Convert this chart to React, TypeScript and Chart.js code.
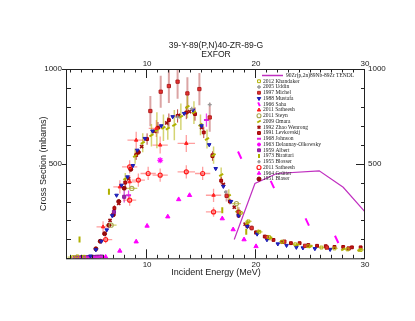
import React, { useEffect, useRef } from 'react';
import { Chart, registerables } from 'chart.js';
import { drawPoint } from 'chart.js/helpers';

Chart.register(...registerables);

// ---------- axes ----------
const xMin = 2.65;
const xMax = 30;
const yMin = 0;
const yMax = 1000;
const xLabelTicks = [10, 20, 30];
const yLabelTicks = [500, 1000];
const titleLines = ['39-Y-89(P,N)40-ZR-89-G', 'EXFOR'];
const xTitle = 'Incident Energy (MeV)';
const yTitle = 'Cross Section (mbarns)';

// ---------- data ----------
const tendlE = [18.0, 19.9, 21.9, 25.8, 28.0, 30.0];
const tendlV = [99, 395, 448, 462, 375, 245];

const khandakerE = [3.2, 3.6, 4.2, 18.6, 19.3, 20.3, 21.2, 22.4, 23.6, 24.8, 26.0, 27.2, 28.4, 29.6];
const khandakerV = [6, 10, 8, 240, 195, 140, 112, 88, 74, 64, 57, 52, 47, 44];
const khandakerDE = [0.5, 0.4, 0, 0.3, 0.3, 0.3, 0.3, 0.3, 0.3, 0.3, 0.3, 0.3, 0.3, 0.3];

const uddinE = [12.8, 14.1, 15.75];
const uddinV = [745, 790, 812];

const michelE = [10.3, 11.25, 12.0, 12.8, 13.7, 14.8, 15.75, 17.3, 18.4, 19.6, 21.0, 22.6, 24.5, 26.5, 28.5];
const michelV = [778, 880, 910, 933, 871, 894, 744, 330, 245, 160, 112, 88, 66, 57, 52];
const michelDV = [80, 85, 90, 90, 85, 85, 75, 30, 25, 15, 10, 8, 6, 5, 5];

const mustafaE = [4.8, 5.3, 5.8, 6.3, 6.8, 7.2, 7.65, 8.2, 8.7, 9.1, 9.8, 10.5, 11.3, 12.35, 13.4, 14.2, 15.0, 15.7, 16.3, 17.0, 17.7, 18.4, 19.2, 20.1, 21.0, 22.0, 22.8, 23.7, 24.3, 25.4, 26.8];
const mustafaV = [12, 45, 90, 150, 225, 333, 386, 430, 490, 571, 633, 672, 700, 748, 765, 783, 700, 600, 474, 380, 300, 225, 168, 128, 98, 76, 68, 58, 55, 51, 47];

const sahaE = [18.5, 21.5, 24.7, 27.4];
const sahaV = [545, 390, 192, 100];

const satTriE = [5.96, 7.5, 8.4, 9.0, 10.85, 11.2, 13.6, 16.1];
const satTriV = [166, 377, 404, 624, 686, 598, 607, 333];
const satTriDV = [30, 35, 35, 45, 45, 45, 45, 35];
const satTriDE = [0.6, 0.6, 0.6, 0.8, 0.7, 0.7, 0.8, 0.7];

const steynE = [6.7, 8.6, 18.2];
const steynV = [175, 369, 289];
const steynDE = [0.5, 0.5, 0.4];

const omaraE = [8.0, 8.9, 9.6, 10.4, 10.9, 11.5, 11.9, 12.5, 13.1, 13.7, 14.3, 14.9, 15.5, 16.1, 16.8, 17.5, 18.3, 19.2, 20.2, 21.3, 22.5, 23.8, 25.0, 26.5, 28.0, 29.5];
const omaraV = [420, 540, 610, 650, 677, 690, 686, 704, 748, 800, 770, 705, 630, 545, 440, 330, 250, 185, 140, 105, 85, 70, 62, 54, 48, 44];
const omaraDV = [30, 40, 50, 60, 95, 70, 60, 80, 70, 60, 60, 55, 50, 45, 40, 35, 25, 18, 14, 11, 9, 7, 6, 6, 5, 5];

const zhaoE = [6.6, 7.4, 8.3, 9.5, 10.7, 11.8, 12.9, 13.9, 15.0, 16.0, 17.0, 18.0, 19.0, 20.0];
const zhaoV = [200, 290, 420, 590, 670, 715, 755, 775, 690, 545, 390, 270, 180, 135];

const levkovskijE = [7.0, 8.0, 9.0, 10.0, 11.0, 12.0, 12.8, 13.6, 14.4, 15.2, 16.0, 16.8, 17.6, 18.4, 19.2, 20.0, 20.8, 21.6, 22.4, 23.2, 24.0, 24.8, 25.6, 26.4, 27.2, 28.0, 28.8, 29.6];
const levkovskijV = [265, 400, 545, 630, 690, 730, 752, 770, 762, 665, 540, 410, 300, 225, 170, 137, 115, 97, 86, 80, 80, 70, 66, 64, 60, 60, 58, 58];
const levkovskijDV = [15, 20, 25, 30, 30, 35, 35, 35, 35, 30, 25, 20, 15, 12, 10, 8, 7, 6, 6, 5, 5, 5, 5, 5, 5, 5, 5, 5];

const johnsonE = [3.4, 3.8, 4.2, 4.6, 5.0, 5.4, 5.8, 8.3, 15.45];
const johnsonV = [3, 3, 4, 4, 5, 6, 8, 333, 730];
const johnsonDV = [0, 0, 0, 0, 0, 0, 0, 25, 35];

const delaunayE = [11.2];
const delaunayV = [518];

const albertE = [3.4, 3.6, 3.8, 4.0, 4.2, 4.4, 4.6, 4.8, 5.0, 5.2, 5.4, 5.6, 5.8, 6.96, 7.9];
const albertV = [4, 4, 4, 5, 5, 5, 6, 6, 7, 7, 8, 8, 9, 245, 325];
const albertDV = [0, 0, 0, 0, 0, 0, 0, 0, 0, 0, 0, 0, 0, 25, 30];

const birattariE = [3.8, 6.5, 16.9, 19.1];
const birattariV = [99, 351, 254, 140];

const blosserE = [17.2, 19.5];
const blosserV = [350, 160];

const satCircE = [6.2, 8.4, 8.4, 9.2, 10.1, 11.2, 13.6, 15.1, 16.1];
const satCircV = [99, 483, 307, 413, 448, 439, 457, 448, 245];
const satCircDV = [20, 35, 30, 35, 35, 35, 35, 35, 25];
const satCircDE = [0.6, 0.7, 0.6, 0.6, 0.7, 0.7, 0.8, 0.7, 0.7];

const grutterE = [6.2, 7.5, 9.0, 10.0, 11.9, 12.9, 13.9, 16.9, 17.9, 18.9, 20.0];
const grutterV = [7, 39, 88, 171, 220, 311, 333, 210, 152, 99, 63];

const blaserE = [5.3, 5.7, 6.1, 6.5, 6.9, 7.4, 7.9, 8.5, 9.2];
const blaserV = [50, 90, 130, 175, 230, 300, 370, 470, 560];

const seriesLabels = [
  '90Zr(p,2n)89Nb-89Zr TENDL',
  '2012 Khandaker',
  '2005 Uddin',
  '1997 Michel',
  '1988 Mustafa',
  '1966 Saha',
  '2011 Satheesh',
  '2011 Steyn',
  '2009 Omara',
  '1992 Zhao Wenrong',
  '1991 Levkovskij',
  '1968 Johnson',
  '1963 Delaunay-Olkowsky',
  '1959 Albert',
  '1973 Birattari',
  '1955 Blosser',
  '2011 Satheesh',
  '1964 Grütter',
  '1951 Blaser',
];

const pts = (xs: number[], ys: number[]) => xs.map((x, i) => ({ x, y: ys[i] }));

const OLIVE = '#b0b000';
const MAGENTA = '#ff00ff';

const errorBarPlugin = {
  id: 'errorBars',
  beforeDatasetsDraw(chart: any) {
    const { ctx, chartArea } = chart;
    const xs = chart.scales.x;
    const ys = chart.scales.y;
    ctx.save();
    ctx.beginPath();
    ctx.rect(chartArea.left, chartArea.top, chartArea.right - chartArea.left, chartArea.bottom - chartArea.top);
    ctx.clip();
    chart.data.datasets.forEach((ds: any) => {
      const ey = ds.errY as number[] | undefined;
      const ex = ds.errX as number[] | undefined;
      if (!ey && !ex) return;
      ctx.strokeStyle = ds.errColor || ds.borderColor;
      ctx.lineWidth = ds.errWidth || 1;
      ds.data.forEach((p: any, j: number) => {
        const px = xs.getPixelForValue(p.x);
        const py = ys.getPixelForValue(p.y);
        if (ey && ey[j]) {
          ctx.beginPath();
          ctx.moveTo(px, ys.getPixelForValue(p.y - ey[j]));
          ctx.lineTo(px, ys.getPixelForValue(p.y + ey[j]));
          ctx.stroke();
        }
        if (ex && ex[j]) {
          ctx.beginPath();
          ctx.moveTo(xs.getPixelForValue(p.x - ex[j]), py);
          ctx.lineTo(xs.getPixelForValue(p.x + ex[j]), py);
          ctx.stroke();
        }
      });
    });
    ctx.restore();
  },
};

const framePlugin = {
  id: 'frameTicks',
  afterDatasetsDraw(chart: any) {
    const { ctx, chartArea } = chart;
    const { left, right, top, bottom } = chartArea;
    const xs = chart.scales.x;
    const ys = chart.scales.y;
    ctx.save();
    ctx.strokeStyle = '#222';
    ctx.lineWidth = 1;
    ctx.strokeRect(left - 0.5, top + 0.5, right - left, bottom - top);
    ctx.beginPath();
    xs.ticks.forEach((t: any) => {
      const px = Math.round(xs.getPixelForValue(t.value)) - 0.5;
      const len = xLabelTicks.includes(t.value) ? 9 : 3.5;
      ctx.moveTo(px, bottom);
      ctx.lineTo(px, bottom - len);
      ctx.moveTo(px, top);
      ctx.lineTo(px, top + len);
    });
    ys.ticks.forEach((t: any) => {
      const py = Math.round(ys.getPixelForValue(t.value)) + 0.5;
      const major = yLabelTicks.includes(t.value);
      if (major) {
        ctx.moveTo(left - 5, py);
        ctx.lineTo(left, py);
        ctx.moveTo(right, py);
        ctx.lineTo(right - 9, py);
      } else {
        ctx.moveTo(left, py);
        ctx.lineTo(left + 4, py);
        ctx.moveTo(right, py);
        ctx.lineTo(right - 4, py);
      }
    });
    ctx.stroke();
    ctx.restore();
  },
};

const legendPlugin = {
  id: 'insideLegend',
  afterDatasetsDraw(chart: any) {
    const { ctx } = chart;
    const x0 = 259;
    const y0 = 75.5;
    const dy = 5.75;
    ctx.save();
    ctx.font = "5.5px 'Liberation Serif', 'DejaVu Serif', serif";
    ctx.textBaseline = 'middle';
    chart.data.datasets.forEach((ds: any, i: number) => {
      const y = y0 + i * dy;
      if (ds.isLine) {
        ctx.strokeStyle = ds.borderColor;
        ctx.lineWidth = 1.5;
        ctx.beginPath();
        ctx.moveTo(262, y);
        ctx.lineTo(283, y);
        ctx.stroke();
        ctx.fillStyle = '#222';
        ctx.fillText(ds.label, 286, y);
      } else {
        ctx.fillStyle = ds.backgroundColor;
        ctx.strokeStyle = ds.borderColor;
        ctx.lineWidth = ds.borderWidth || 1;
        drawPoint(ctx, {
          pointStyle: ds.pointStyle,
          rotation: ds.pointRotation || 0,
          radius: Math.min(ds.pointRadius, 2),
          borderWidth: ds.borderWidth || 1,
        } as any, x0, y);
        ctx.fillStyle = '#222';
        ctx.fillText(ds.label, 263, y);
      }
    });
    ctx.restore();
  },
};

function scatter(label: string, xs: number[], ys: number[], style: any, extra: any = {}) {
  return {
    label,
    data: pts(xs, ys),
    showLine: false,
    ...style,
    ...extra,
  };
}

export default function App() {
  const ref = useRef<HTMLCanvasElement>(null);

  useEffect(() => {
    if (!ref.current) return;
    const L = seriesLabels;
    const datasets: any[] = [
      {
        label: L[0], data: pts(tendlE, tendlV), showLine: true, isLine: true,
        borderColor: '#c030c0', backgroundColor: '#c030c0', borderWidth: 1.2, pointRadius: 0,
      },
      scatter(L[1], khandakerE, khandakerV, { pointStyle: 'rect', pointRadius: 2, borderColor: OLIVE, backgroundColor: 'rgba(0,0,0,0)', borderWidth: 1 },
        { errX: khandakerDE, errColor: 'rgba(176,176,0,0.6)', errWidth: 1.2 }),
      scatter(L[2], uddinE, uddinV, { pointStyle: 'cross', pointRadius: 2, borderColor: '#999', backgroundColor: '#999', borderWidth: 1.3 }),
      scatter(L[3], michelE, michelV, { pointStyle: 'rect', pointRadius: 2.3, borderColor: '#b02020', backgroundColor: '#e83030', borderWidth: 1 },
        { errY: michelDV, errColor: 'rgba(190,90,90,0.55)', errWidth: 2 }),
      scatter(L[4], mustafaE, mustafaV, { pointStyle: 'triangle', pointRotation: 180, pointRadius: 2.1, borderColor: '#1a1ab0', backgroundColor: '#2525c8', borderWidth: 1 }),
      scatter(L[5], sahaE, sahaV, { pointStyle: 'line', pointRotation: 65, pointRadius: 4, borderColor: MAGENTA, backgroundColor: MAGENTA, borderWidth: 2 }),
      scatter(L[6], satTriE, satTriV, { pointStyle: 'triangle', pointRadius: 2, borderColor: '#ff2020', backgroundColor: '#ff2020', borderWidth: 1 },
        { errY: satTriDV, errX: satTriDE, errColor: 'rgba(255,80,80,0.55)', errWidth: 1.3 }),
      scatter(L[7], steynE, steynV, { pointStyle: 'circle', pointRadius: 2.1, borderColor: '#a8a850', backgroundColor: 'rgba(0,0,0,0)', borderWidth: 1.1 },
        { errX: steynDE, errColor: 'rgba(176,176,0,0.6)', errWidth: 1.2 }),
      scatter(L[8], omaraE, omaraV, { pointStyle: 'line', pointRotation: -30, pointRadius: 2.3, borderColor: OLIVE, backgroundColor: OLIVE, borderWidth: 2 },
        { errY: omaraDV, errColor: 'rgba(176,176,0,0.55)', errWidth: 1.5 }),
      scatter(L[9], zhaoE, zhaoV, { pointStyle: 'crossRot', pointRadius: 2.2, borderColor: '#a01010', backgroundColor: '#a01010', borderWidth: 1.6 }),
      scatter(L[10], levkovskijE, levkovskijV, { pointStyle: 'rect', pointRadius: 2, borderColor: '#a00000', backgroundColor: '#c01818', borderWidth: 1 },
        { errY: levkovskijDV, errColor: 'rgba(170,20,20,0.8)', errWidth: 1 }),
      scatter(L[11], johnsonE, johnsonV, { pointStyle: 'line', pointRadius: 2.5, borderColor: '#e020e0', backgroundColor: '#e020e0', borderWidth: 2 },
        { errY: johnsonDV, errColor: 'rgba(230,30,230,0.8)', errWidth: 1.3 }),
      scatter(L[12], delaunayE, delaunayV, { pointStyle: 'star', pointRadius: 3, borderColor: MAGENTA, backgroundColor: 'rgba(0,0,0,0)', borderWidth: 1.2 }),
      scatter(L[13], albertE, albertV, { pointStyle: 'rect', pointRadius: 2.2, borderColor: '#8a1a9a', backgroundColor: '#9a28aa', borderWidth: 1 },
        { errY: albertDV, errColor: 'rgba(200,40,200,0.8)', errWidth: 1.3 }),
      scatter(L[14], birattariE, birattariV, { pointStyle: 'line', pointRotation: 90, pointRadius: 3, borderColor: OLIVE, backgroundColor: OLIVE, borderWidth: 2 }),
      scatter(L[15], blosserE, blosserV, { pointStyle: 'circle', pointRadius: 1.2, borderColor: '#999', backgroundColor: '#999', borderWidth: 1 }),
      scatter(L[16], satCircE, satCircV, { pointStyle: 'circle', pointRadius: 2, borderColor: '#ff1a1a', backgroundColor: 'rgba(255,255,255,0)', borderWidth: 1.2 },
        { errY: satCircDV, errX: satCircDE, errColor: 'rgba(255,80,80,0.55)', errWidth: 1.3 }),
      scatter(L[17], grutterE, grutterV, { pointStyle: 'triangle', pointRadius: 2.5, borderColor: MAGENTA, backgroundColor: MAGENTA, borderWidth: 1 }),
      scatter(L[18], blaserE, blaserV, { pointStyle: 'circle', pointRadius: 2, borderColor: '#8a0000', backgroundColor: '#9a0a0a', borderWidth: 1 }),
    ];

    const tickFont = { family: "'Liberation Sans', Arial, sans-serif", size: 8 };
    const titleFont = { family: "'Liberation Sans', Arial, sans-serif", size: 9 };
    const xTickCb = (v: any) => (xLabelTicks.includes(v) ? String(v) : '');
    const yTickCb = (v: any) => (yLabelTicks.includes(v) ? String(v) : '');

    const chart = new Chart(ref.current, {
      type: 'scatter',
      data: { datasets },
      options: {
        responsive: false,
        animation: false,
        events: [],
        layout: { padding: 0 },
        plugins: {
          legend: { display: false },
          tooltip: { enabled: false },
          title: {
            display: true,
            text: titleLines,
            fullSize: false,
            color: '#222',
            font: { family: "'Liberation Sans', Arial, sans-serif", size: 8.6, lineHeight: 1, weight: 'normal' },
            padding: { top: 41.4, bottom: 0 },
          },
        },
        scales: {
          x: {
            type: 'linear', position: 'bottom', min: xMin, max: xMax,
            grid: { display: false, drawTicks: false },
            border: { display: false },
            ticks: { stepSize: 1, includeBounds: false, autoSkip: false, maxRotation: 0, padding: 2, color: '#222', font: tickFont, callback: xTickCb },
            title: { display: true, text: xTitle, color: '#222', font: titleFont, padding: { top: 0, bottom: 42.6 } },
            afterFit: (s: any) => { s.height = 62.7; },
          },
          x2: {
            type: 'linear', position: 'top', min: xMin, max: xMax,
            grid: { display: false, drawTicks: false },
            border: { display: false },
            ticks: { stepSize: 1, includeBounds: false, autoSkip: false, maxRotation: 0, padding: 0, color: '#222', font: tickFont, callback: xTickCb },
            afterFit: (s: any) => { s.height = 10.4; },
          },
          y: {
            type: 'linear', position: 'left', min: yMin, max: yMax,
            grid: { display: false, drawTicks: false },
            border: { display: false },
            ticks: { stepSize: 100, includeBounds: false, autoSkip: false, padding: 5, color: '#222', font: tickFont, callback: yTickCb },
            title: { display: true, text: yTitle, color: '#222', font: titleFont, padding: { top: 38.6, bottom: 0 } },
            afterFit: (s: any) => { s.width = 67; },
          },
          y2: {
            type: 'linear', position: 'right', min: yMin, max: yMax,
            grid: { display: false, drawTicks: false },
            border: { display: false },
            ticks: { stepSize: 100, includeBounds: false, autoSkip: false, padding: 3, color: '#222', font: tickFont, callback: yTickCb },
            afterFit: (s: any) => { s.width = 50; },
          },
        },
      } as any,
      plugins: [errorBarPlugin, framePlugin, legendPlugin],
    });
    return () => chart.destroy();
  }, []);

  return (
    <div style={{ position: 'fixed', left: 0, top: 0, width: 415, height: 321, background: '#fff' }}>
      <canvas ref={ref} width={415} height={321} style={{ display: 'block' }} />
    </div>
  );
}
